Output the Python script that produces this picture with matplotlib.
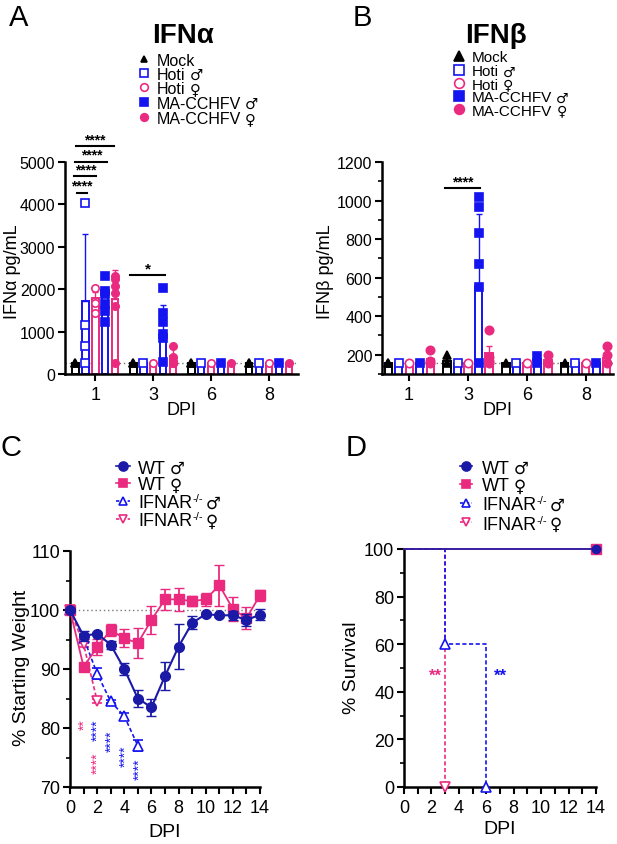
import numpy as np
import matplotlib.pyplot as plt
from matplotlib.lines import Line2D
from matplotlib.ticker import MultipleLocator

plt.rcParams['font.family'] = ['Liberation Sans', 'DejaVu Sans']
plt.rcParams['mathtext.fontset'] = 'custom'
plt.rcParams['mathtext.rm'] = 'Liberation Sans'

W, H = 617, 845

BLUE = '#1414f0'
PINK = '#ea2a7f'
NAVY = '#1a1aa6'
GREY = '#777777'
MALE = '♂'
FEMALE = '♀'

# ---------------- panel A / B data ----------------
dpi_labels = ['1', '3', '6', '8']
group_names = ['Mock', 'Hoti', 'Hoti', 'MA-CCHFV', 'MA-CCHFV']
group_sex = ['', MALE, FEMALE, MALE, FEMALE]

# IFN alpha (pg/mL), mean bars, SD (upward only), single points
ifna_mean_mock = [250, 250, 250, 250]
ifna_mean_hoti_m = [1725, 250, 250, 250]
ifna_mean_hoti_f = [1790, 250, 250, 250]
ifna_mean_ma_m = [1830, 965, 250, 250]
ifna_mean_ma_f = [1770, 430, 250, 250]

ifna_sd_mock = [0, 0, 0, 0]
ifna_sd_hoti_m = [1570, 0, 0, 0]
ifna_sd_hoti_f = [150, 0, 0, 0]
ifna_sd_ma_m = [230, 660, 0, 0]
ifna_sd_ma_f = [690, 275, 0, 0]

ifna_pts_mock = [[250, 250], [250, 250], [250, 250], [250, 250]]
ifna_pts_hoti_m = [[4040, 1150, 670, 250], [250], [250], [250]]
ifna_pts_hoti_f = [[2040, 1670, 1450], [250], [250], [250]]
ifna_pts_ma_m = [[2310, 1960, 1880, 1650, 1490, 1230],
                 [2030, 1430, 1230, 940, 860, 275], [250], [250]]
ifna_pts_ma_f = [[2310, 2240, 2080, 1920, 1610, 250],
                 [670, 390, 310, 250, 250, 250], [250], [250]]

# IFN beta (pg/mL)
ifnb_mean_mock = [155, 165, 155, 155]
ifnb_mean_hoti_m = [157, 157, 157, 157]
ifnb_mean_hoti_f = [157, 157, 157, 157]
ifnb_mean_ma_m = [157, 555, 175, 157]
ifnb_mean_ma_f = [180, 210, 175, 185]

ifnb_sd_mock = [0, 0, 0, 0]
ifnb_sd_hoti_m = [0, 0, 0, 0]
ifnb_sd_hoti_f = [0, 0, 0, 0]
ifnb_sd_ma_m = [0, 375, 0, 0]
ifnb_sd_ma_f = [0, 33, 0, 0]

ifnb_pts_mock = [[157, 157], [200, 157], [157], [157]]
ifnb_pts_hoti_m = [[157], [157], [157], [157]]
ifnb_pts_hoti_f = [[157], [157], [157], [157]]
ifnb_pts_ma_m = [[157], [1017, 969, 831, 670, 552, 159], [195, 157], [157]]
ifnb_pts_ma_f = [[222, 166, 157], [328, 188, 170, 157], [197, 157], [246, 200, 157]]

ifna_lod = 250
ifnb_lod = 157

# ---------------- panel C data (weight, % of start) ----------------
days = list(range(15))
wt_m_weight = [100, 95.6, 96.0, 94.1, 90.0, 85.0, 83.5, 88.8, 93.8, 97.8, 99.3, 99.1, 99.1, 98.3, 99.2]
wt_m_sem = [0.3, 0.8, 0.3, 0.7, 1.0, 1.5, 1.5, 2.4, 3.8, 1.1, 0.3, 0.3, 0.8, 1.0, 0.9]
wt_f_weight = [100, 90.4, 93.7, 96.6, 95.2, 94.4, 98.3, 101.8, 101.8, 101.5, 101.8, 104.2, 100.2, 98.6, 102.5]
wt_f_sem = [0.4, 0.5, 1.4, 1.0, 1.5, 2.6, 2.4, 1.8, 2.0, 0.9, 1.1, 3.5, 2.0, 1.9, 0.9]
ifnar_days_m = [0, 1, 2, 3, 4, 5]
ifnar_m_weight = [100, 95.3, 89.2, 84.5, 82.0, 77.0]
ifnar_m_sem = [0.2, 0.6, 0.9, 0.3, 0.6, 0.9]
ifnar_days_f = [0, 1, 2]
ifnar_f_weight = [100, 94.2, 84.6]
ifnar_f_sem = [0.2, 0.5, 0.3]

# significance stars under the IFNAR curves
weight_stars_x = [1.05, 2.0, 2.0, 3.1, 4.1, 5.1]
weight_stars_y = [80.8, 79.8, 74.2, 77.9, 75.3, 73.1]
weight_stars_txt = ['**', '****', '****', '****', '****', '****']
weight_stars_col = [PINK, BLUE, PINK, BLUE, BLUE, BLUE]

# ---------------- panel D data (survival) ----------------
wt_surv_days = [0, 14]
wt_surv = [100, 100]
ifnar_m_surv_days = [0, 3, 6]
ifnar_m_surv = [100, 60, 0]
ifnar_f_surv_days = [0, 3]
ifnar_f_surv = [100, 0]


def fx(x):
    return x / W


def fy(y):
    return 1 - y / H


def style_axis(ax):
    for s in ['top', 'right']:
        ax.spines[s].set_visible(False)
    for s in ['left', 'bottom']:
        ax.spines[s].set_linewidth(1.8)
    ax.tick_params(which='major', direction='out', length=5, width=1.5)
    ax.tick_params(which='minor', direction='out', length=3, width=1.2)


def bar_panel(ax, means, sds, pts, lod, spacing, msize):
    colors = ['black', BLUE, PINK, BLUE, PINK]
    markers = ['^', 's', 'o', 's', 'o']
    filled = [True, False, False, True, True]
    offs = [(-2 + k) * spacing for k in range(5)]
    x = np.arange(len(dpi_labels))
    for k in range(5):
        xs = x + offs[k]
        ax.bar(xs, means[k], width=spacing * 0.68, facecolor='white',
               edgecolor=colors[k], linewidth=1.4, zorder=2)
        for i in range(len(xs)):
            if sds[k][i] > 0:
                ax.errorbar(xs[i], means[k][i], yerr=[[0], [sds[k][i]]], fmt='none',
                            ecolor=colors[k], elinewidth=1.0, capsize=2, capthick=1.0, zorder=3)
            yy = pts[k][i]
            ax.plot([xs[i]] * len(yy), yy, linestyle='none', marker=markers[k],
                    markersize=msize, color=colors[k],
                    markerfacecolor=colors[k] if filled[k] else 'white',
                    markeredgewidth=1.2, zorder=4, clip_on=False)
    ax.axhline(lod, color=GREY, linestyle=(0, (1, 2)), linewidth=1.0, zorder=1)
    ax.set_xticks(x)
    ax.set_xticklabels(dpi_labels, fontsize=13)
    return offs


def sig_line(ax, x0, x1, y, txt, fs=10):
    ax.plot([x0, x1], [y, y], color='black', linewidth=1.5, clip_on=False)
    ax.text((x0 + x1) / 2, y, txt, ha='center', va='bottom', fontsize=fs,
            fontweight='bold', clip_on=False)


def rich_text(x, yc, parts, fs):
    # parts: (text, size factor, family, raise in px, gap before in px)
    renderer = fig.canvas.get_renderer()
    base = yc + 0.36 * fs * 100 / 72
    cur = x
    for txt, f, fam, rise, gap in parts:
        cur += gap
        t = fig.text(fx(cur), fy(base - rise), txt, fontsize=fs * f, family=fam,
                     ha='left', va='baseline')
        bb = t.get_window_extent(renderer)
        cur = bb.x1


def sex_parts(name, sex, sup=False):
    parts = [(name, 1.0, 'Liberation Sans', 0, 0)]
    if sup:
        parts.append(('-/-', 0.62, 'Liberation Sans', 6, 0.5))
    if sex:
        parts.append((sex, 0.92, 'DejaVu Sans', 0, 2 if sup else 4))
    return parts


def legend_rows(x_mark, x_text, ys, entries, styles, fs, line=None):
    for y, parts, st in zip(ys, entries, styles):
        if line is not None:
            fig.add_artist(Line2D([fx(x_mark - line), fx(x_mark + line)], [fy(y), fy(y)],
                                  transform=fig.transFigure, color=st['color'],
                                  linewidth=1.2, linestyle=st.get('ls', '-')))
        fig.add_artist(Line2D([fx(x_mark)], [fy(y)], transform=fig.transFigure,
                              marker=st['marker'], markersize=st['ms'], color=st['color'],
                              markerfacecolor=st['mfc'], markeredgewidth=1.2, linestyle='none'))
        rich_text(x_text, y, parts, fs)


fig = plt.figure(figsize=(W / 100, H / 100), dpi=100)

# ================= A =================
axA = fig.add_axes([fx(65), fy(375), (298 - 65) / W, (375 - 163) / H])
style_axis(axA)
bar_panel(axA,
          [ifna_mean_mock, ifna_mean_hoti_m, ifna_mean_hoti_f, ifna_mean_ma_m, ifna_mean_ma_f],
          [ifna_sd_mock, ifna_sd_hoti_m, ifna_sd_hoti_f, ifna_sd_ma_m, ifna_sd_ma_f],
          [ifna_pts_mock, ifna_pts_hoti_m, ifna_pts_hoti_f, ifna_pts_ma_m, ifna_pts_ma_f],
          ifna_lod, 0.172, 5.3)
axA.set_xlim(-0.52, 3.5)
axA.set_ylim(0, 5000)
axA.set_yticks(range(0, 5001, 1000))
axA.tick_params(axis='y', labelsize=11.5, pad=2)
sig_line(axA, -0.31, -0.14, 4280, '****')
sig_line(axA, -0.36, 0.02, 4660, '****')
sig_line(axA, -0.34, 0.21, 5010, '****')
sig_line(axA, -0.33, 0.33, 5370, '****')
sig_line(axA, 0.60, 1.21, 2330, '*', fs=11)
fig.text(fx(13), fy(272), 'IFNα pg/mL', rotation=90, fontsize=13, ha='center', va='center')
fig.text(fx(181), fy(411), 'DPI', fontsize=13, ha='center', va='center')
fig.text(fx(183), fy(36), 'IFNα', fontsize=20, fontweight='bold', ha='center', va='center')
fig.text(fx(19), fy(18), 'A', fontsize=21, ha='center', va='center')

stylesAB = [dict(marker='^', ms=5, color='black', mfc='black'),
            dict(marker='s', ms=5.5, color=BLUE, mfc='white'),
            dict(marker='o', ms=5.5, color=PINK, mfc='white'),
            dict(marker='s', ms=5.5, color=BLUE, mfc=BLUE),
            dict(marker='o', ms=5.5, color=PINK, mfc=PINK)]
entriesAB = [sex_parts(n, s) for n, s in zip(group_names, group_sex)]
legend_rows(144, 157, [60, 74, 88, 103, 118], entriesAB, stylesAB, 11.5)

# ================= B =================
axB = fig.add_axes([fx(382), fy(375), (613 - 382) / W, (375 - 163) / H])
style_axis(axB)
bar_panel(axB,
          [ifnb_mean_mock, ifnb_mean_hoti_m, ifnb_mean_hoti_f, ifnb_mean_ma_m, ifnb_mean_ma_f],
          [ifnb_sd_mock, ifnb_sd_hoti_m, ifnb_sd_hoti_f, ifnb_sd_ma_m, ifnb_sd_ma_f],
          [ifnb_pts_mock, ifnb_pts_hoti_m, ifnb_pts_hoti_f, ifnb_pts_ma_m, ifnb_pts_ma_f],
          ifnb_lod, 0.178, 6.0)
axB.set_xlim(-0.46, 3.46)
axB.set_ylim(100, 1200)
axB.set_yticks(range(200, 1201, 200))
axB.yaxis.set_minor_locator(MultipleLocator(100))
axB.tick_params(axis='y', labelsize=11.5, pad=2)
sig_line(axB, 0.61, 1.20, 1063, '****')
fig.text(fx(326), fy(272), 'IFNβ pg/mL', rotation=90, fontsize=13, ha='center', va='center')
fig.text(fx(497), fy(411), 'DPI', fontsize=13, ha='center', va='center')
fig.text(fx(496), fy(36), 'IFNβ', fontsize=20, fontweight='bold', ha='center', va='center')
fig.text(fx(362), fy(18), 'B', fontsize=21, ha='center', va='center')
legend_rows(459, 472, [57, 71, 84, 97, 110], entriesAB,
            [dict(s, ms=s['ms'] + 1.5) for s in stylesAB], 11)

# ================= C =================
axC = fig.add_axes([fx(70), fy(788), (260 - 70) / W, (788 - 552) / H])
style_axis(axC)
axC.axhline(100, color=GREY, linestyle=(0, (1, 2)), linewidth=1.0, zorder=1)
dash = (0, (2.5, 1.5))
axC.errorbar(ifnar_days_m, ifnar_m_weight, yerr=ifnar_m_sem, color=BLUE, linestyle=dash,
             linewidth=1.2, marker='^', markersize=6.5, markerfacecolor='white',
             markeredgewidth=1.2, capsize=3.5, elinewidth=1.2, clip_on=False, zorder=3)
axC.errorbar(ifnar_days_f, ifnar_f_weight, yerr=ifnar_f_sem, color=PINK, linestyle=dash,
             linewidth=1.2, marker='v', markersize=6.5, markerfacecolor='white',
             markeredgewidth=1.2, capsize=3.5, elinewidth=1.2, clip_on=False, zorder=3)
axC.errorbar(days, wt_f_weight, yerr=wt_f_sem, color=PINK, linewidth=1.3, marker='s',
             markersize=6.5, capsize=3.5, elinewidth=1.3, clip_on=False, zorder=4)
axC.errorbar(days, wt_m_weight, yerr=wt_m_sem, color=NAVY, linewidth=1.5, marker='o',
             markersize=7, capsize=3.5, elinewidth=1.3, clip_on=False, zorder=5)
for xs, ys, t, c in zip(weight_stars_x, weight_stars_y, weight_stars_txt, weight_stars_col):
    axC.text(xs, ys, t, rotation=90, color=c, fontsize=10, ha='center', va='center')
axC.set_xlim(0, 14)
axC.set_ylim(70, 110)
axC.set_xticks(range(15))
axC.set_xticklabels([str(d) if d % 2 == 0 else '' for d in range(15)], fontsize=13)
axC.set_yticks(range(70, 111, 10))
axC.yaxis.set_minor_locator(MultipleLocator(5))
axC.tick_params(axis='y', labelsize=13, pad=2)
fig.text(fx(22), fy(668), '% Starting Weight', rotation=90, fontsize=14, ha='center', va='center')
fig.text(fx(165), fy(833), 'DPI', fontsize=14, ha='center', va='center')
fig.text(fx(11), fy(448), 'C', fontsize=21, ha='center', va='center')

entriesCD = [sex_parts('WT', MALE), sex_parts('WT', FEMALE),
             sex_parts('IFNAR', MALE, sup=True), sex_parts('IFNAR', FEMALE, sup=True)]
stylesCD = [dict(marker='o', ms=6.5, color=NAVY, mfc=NAVY),
            dict(marker='s', ms=6, color=PINK, mfc=PINK),
            dict(marker='^', ms=6, color=BLUE, mfc='white', ls=(0, (2, 1.5))),
            dict(marker='v', ms=6, color=PINK, mfc='white', ls=(0, (2, 1.5)))]
legend_rows(123, 138, [467, 484, 502, 520], entriesCD, stylesCD, 13, line=7)

# ================= D =================
axD = fig.add_axes([fx(404), fy(788), (596 - 404) / W, (788 - 550) / H])
style_axis(axD)
axD.step(ifnar_f_surv_days, ifnar_f_surv, where='post', color=PINK, linestyle=dash,
         linewidth=1.2, marker='v', markersize=6.5, markerfacecolor='white',
         markeredgewidth=1.2, markevery=[1], clip_on=False, zorder=3)
axD.step(ifnar_m_surv_days, ifnar_m_surv, where='post', color=BLUE, linestyle=dash,
         linewidth=1.2, marker='^', markersize=6.5, markerfacecolor='white',
         markeredgewidth=1.2, markevery=[1, 2], clip_on=False, zorder=3)
axD.plot(wt_surv_days, wt_surv, color=PINK, linewidth=1.2, marker='s', markersize=7,
         markevery=[1], clip_on=False, zorder=4)
axD.plot(wt_surv_days, wt_surv, color=NAVY, linewidth=1.2, marker='o', markersize=6,
         markevery=[1], clip_on=False, zorder=5)
axD.text(2.3, 47, '**', color=PINK, fontsize=12, fontweight='bold', ha='center', va='center')
axD.text(7.0, 47, '**', color=BLUE, fontsize=12, fontweight='bold', ha='center', va='center')
axD.set_xlim(0, 14)
axD.set_ylim(0, 100)
axD.set_xticks(range(15))
axD.set_xticklabels([str(d) if d % 2 == 0 else '' for d in range(15)], fontsize=13)
axD.set_yticks(range(0, 101, 20))
axD.yaxis.set_minor_locator(MultipleLocator(10))
axD.tick_params(axis='y', labelsize=13, pad=2)
fig.text(fx(352), fy(668), '% Survival', rotation=90, fontsize=14, ha='center', va='center')
fig.text(fx(500), fy(830), 'DPI', fontsize=14, ha='center', va='center')
fig.text(fx(356), fy(448), 'D', fontsize=21, ha='center', va='center')
legend_rows(466, 482, [467, 485, 504, 523], entriesCD, stylesCD, 13, line=6)

fig.savefig('out.png', dpi=100)
